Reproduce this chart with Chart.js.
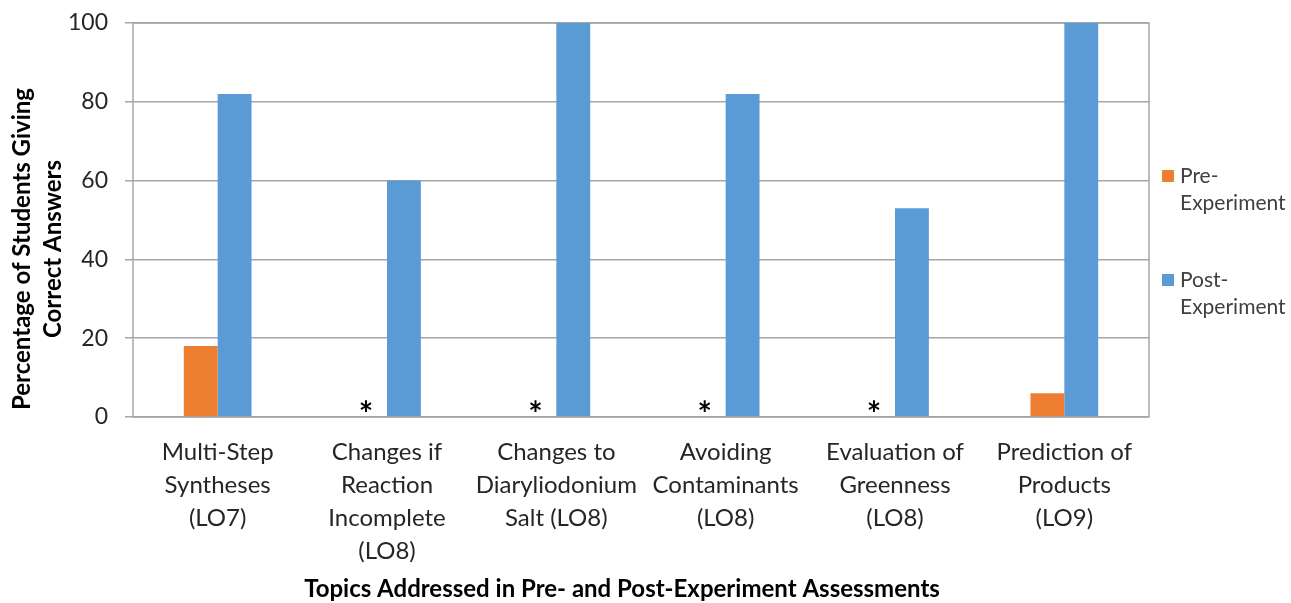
<!DOCTYPE html>
<html>
<head>
<meta charset="utf-8">
<script src="https://cdn.jsdelivr.net/npm/chart.js@4.4.1/dist/chart.umd.min.js"></script>
<style>
  html, body { margin: 0; padding: 0; background: #fff; }
  #wrap { width: 1291px; height: 603px; position: relative; }
</style>
</head>
<body>
<div id="wrap"><canvas id="chart" width="1291" height="603"></canvas></div>
<script>
const categories = [
    ['Multi-Step', 'Syntheses', '(LO7)'],
    ['Changes if', 'Reaction', 'Incomplete', '(LO8)'],
    ['Changes to', 'Diaryliodonium', 'Salt (LO8)'],
    ['Avoiding', 'Contaminants', '(LO8)'],
    ['Evaluation of', 'Greenness', '(LO8)'],
    ['Prediction of', 'Products', '(LO9)']
];
const preValues = [18, null, null, null, null, 6];
const postValues = [82, 60, 100, 82, 53, 100];
// categories where the pre-experiment question was not asked (marked with *)
const preMissing = [false, true, true, true, true, false];
const seriesNames = [['Pre-', 'Experiment'], ['Post-', 'Experiment']];
const seriesColors = ['#ED7D31', '#5B9BD5'];
const yTicks = [0, 20, 40, 60, 80, 100];
const yTitle = ['Percentage of Students Giving', 'Correct Answers'];
const xTitle = 'Topics Addressed in Pre- and Post-Experiment Assessments';

const FONT = 'Lato, "Open Sans", sans-serif';

// gray frame around the plot area
const framePlugin = {
    id: 'frame',
    beforeDatasetsDraw(chart) {
        const a = chart.chartArea;
        const ctx = chart.ctx;
        ctx.save();
        ctx.strokeStyle = '#A6A6A6';
        ctx.lineWidth = 1.5;
        ctx.strokeRect(a.left, a.top, a.right - a.left, a.bottom - a.top);
        ctx.restore();
    }
};

// asterisks where pre data is missing
const starPlugin = {
    id: 'stars',
    afterDatasetsDraw(chart) {
        const ctx = chart.ctx;
        const post = chart.getDatasetMeta(1);
        const y = chart.scales.y.getPixelForValue(0);
        ctx.save();
        ctx.fillStyle = '#000';
        ctx.font = 'bold 34px ' + FONT;
        ctx.textAlign = 'center';
        ctx.textBaseline = 'alphabetic';
        preMissing.forEach((m, i) => {
            if (!m) return;
            const pb = post.data[i];
            const x = pb.x - pb.width - 4;
            ctx.fillText('*', x, y + 9);
        });
        ctx.restore();
    }
};

// axis titles (placed like the original, not centred on the plot)
const titlesPlugin = {
    id: 'titles',
    afterDraw(chart) {
        const ctx = chart.ctx;
        ctx.save();
        ctx.fillStyle = '#000';
        ctx.font = 'bold 24px ' + FONT;
        ctx.textAlign = 'center';
        ctx.textBaseline = 'middle';
        ctx.fillText(xTitle, 622, 589);
        ctx.translate(0, 249);
        ctx.rotate(-Math.PI / 2);
        yTitle.forEach((line, j) => ctx.fillText(line, 0, 22 + j * 31));
        ctx.restore();
    }
};

// two-series legend on the right, each name on two lines
const legendPlugin = {
    id: 'sideLegend',
    afterDraw(chart) {
        const ctx = chart.ctx;
        const x = chart.chartArea.right + 13;
        const tops = [176, 280];
        ctx.save();
        ctx.font = '21px ' + FONT;
        ctx.textBaseline = 'middle';
        seriesNames.forEach((name, i) => {
            ctx.fillStyle = seriesColors[i];
            ctx.fillRect(x, tops[i] - 6, 12, 12);
            ctx.fillStyle = '#404040';
            name.forEach((line, j) => {
                ctx.fillText(line, x + 18, tops[i] + j * 27);
            });
        });
        ctx.restore();
    }
};

new Chart(document.getElementById('chart'), {
    type: 'bar',
    data: {
        labels: categories,
        datasets: [
            { label: 'Pre-Experiment', data: preValues, backgroundColor: seriesColors[0] },
            { label: 'Post-Experiment', data: postValues, backgroundColor: seriesColors[1] }
        ]
    },
    options: {
        responsive: false,
        animation: false,
        layout: { padding: { top: 23, right: 142, left: 0, bottom: 0 } },
        datasets: { bar: { categoryPercentage: 0.4, barPercentage: 1.0 } },
        plugins: { legend: { display: false }, tooltip: { enabled: false } },
        scales: {
            x: {
                grid: { display: false },
                border: { display: false },
                ticks: {
                    color: '#262626',
                    font: { family: FONT, size: 24, lineHeight: 1.375 },
                    padding: 11,
                    maxRotation: 0,
                    autoSkip: false
                },
                afterFit(scale) {
                    scale.height = 186;
                    scale.paddingLeft = 0;
                    scale.paddingRight = 0;
                }
            },
            y: {
                min: 0,
                max: 100,
                afterBuildTicks(scale) { scale.ticks = yTicks.map(v => ({ value: v })); },
                grid: { color: '#A6A6A6', lineWidth: 1.5, tickLength: 8, drawTicks: true },
                border: { display: false },
                ticks: {
                    color: '#262626',
                    font: { family: FONT, size: 23 },
                    padding: 17
                },
                afterFit(scale) {
                    scale.width = 133;
                    scale.paddingTop = 0;
                    scale.paddingBottom = 0;
                }
            }
        }
    },
    plugins: [framePlugin, starPlugin, titlesPlugin, legendPlugin]
});
</script>
</body>
</html>
